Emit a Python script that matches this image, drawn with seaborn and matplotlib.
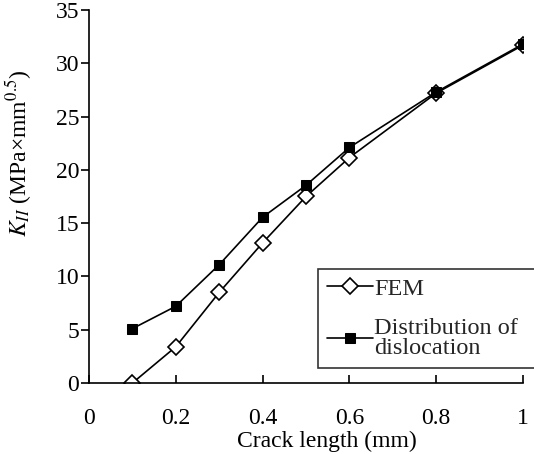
import pandas as pd
import matplotlib
matplotlib.use("Agg")
import matplotlib.pyplot as plt
import seaborn as sns

crack_length = [0.1, 0.2, 0.3, 0.4, 0.5, 0.6, 0.8, 1.0]
k_fem = [0.0, 3.4, 8.5, 13.15, 17.5, 21.15, 27.2, 31.7]
k_dislocation = [5.1, 7.2, 11.1, 15.55, 18.55, 22.1, 27.3, 31.8]
x_ticks = [0, 0.2, 0.4, 0.6, 0.8, 1]
x_tick_labels = ["0", "0.2", "0.4", "0.6", "0.8", "1"]
y_ticks = [0, 5, 10, 15, 20, 25, 30, 35]

sns.set_theme(style="ticks")
plt.rcParams['font.family'] = ['Liberation Serif', 'DejaVu Serif']
plt.rcParams['mathtext.fontset'] = 'stix'

fig = plt.figure(figsize=(5.34, 4.54), dpi=100)
ax = fig.add_axes([0.1667, 0.1564, 0.8127, 0.8216])

sns.lineplot(x=crack_length, y=k_fem, ax=ax, color='black', linewidth=1.2,
             marker='D', markersize=8, markerfacecolor='white',
             markeredgecolor='black', markeredgewidth=1.2, label='FEM')
sns.lineplot(x=crack_length, y=k_dislocation, ax=ax, color='black', linewidth=1.2,
             marker='s', markersize=6.5, markerfacecolor='black',
             markeredgecolor='black', label='Distribution of\ndislocation')

ax.set_xlim(0, 1)
ax.set_ylim(0, 35)
ax.set_xticks(x_ticks)
ax.set_xticklabels(x_tick_labels)
ax.set_yticks(y_ticks)

sns.despine(ax=ax)
for side in ['left', 'bottom']:
    ax.spines[side].set_linewidth(1.2)
    ax.spines[side].set_color('black')

ax.tick_params(axis='x', direction='in', length=6, width=1.2, pad=18,
               labelsize=17, colors='black')
ax.tick_params(axis='y', direction='out', length=6, width=1.2, pad=1,
               labelsize=17, colors='black')

ax.set_xlabel('Crack length (mm)', fontsize=17, color='black')
ax.set_ylabel(r'$K_{II}$ (MPa×mm$^{0.5}$)', fontsize=17, color='black')
ax.xaxis.set_label_coords(0.548, -0.128)
ax.yaxis.set_label_coords(-0.127, 0.616)

# legend box runs off the right edge of the figure, like the original
leg = ax.legend(loc='upper left', bbox_to_anchor=(0.528, 0.0, 0.5, 0.305),
                mode='expand', fontsize=17.5,
                frameon=True, fancybox=False, edgecolor='black',
                handlelength=1.9, handletextpad=0.05, labelspacing=0.75,
                borderpad=0.35, borderaxespad=0)
leg.get_frame().set_linewidth(1.2)
for t in leg.get_texts():
    t.set_linespacing(0.95)

plt.savefig('out.png', dpi=100)
